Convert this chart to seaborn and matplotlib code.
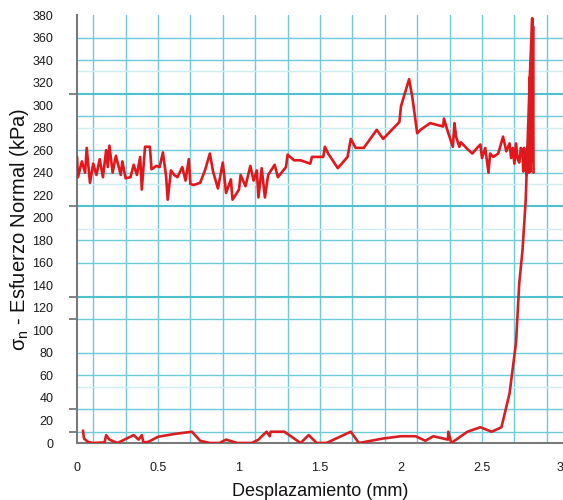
import matplotlib
matplotlib.use("Agg")
import matplotlib.pyplot as plt
import seaborn as sns

# Upper branch: normal stress during shearing (displacement mm, stress kPa)
upper_x = [0.00, 0.006, 0.03, 0.05, 0.06, 0.08, 0.10, 0.12, 0.14, 0.16, 0.18, 0.19, 0.20,
           0.22, 0.24, 0.27, 0.28, 0.30, 0.33, 0.35, 0.37, 0.39, 0.40, 0.42, 0.45, 0.46,
           0.49, 0.51, 0.53, 0.55, 0.56, 0.58, 0.60, 0.62, 0.65, 0.67, 0.69, 0.70, 0.72,
           0.76, 0.79, 0.82, 0.84, 0.87, 0.90, 0.92, 0.95, 0.96, 1.00, 1.01, 1.04, 1.07,
           1.09, 1.11, 1.12, 1.14, 1.16, 1.18, 1.22, 1.24, 1.29, 1.30, 1.34, 1.38, 1.44,
           1.45, 1.52, 1.53, 1.55, 1.61, 1.67, 1.69, 1.72, 1.77, 1.85, 1.89, 1.99, 2.00,
           2.05, 2.07, 2.10, 2.12, 2.18, 2.26, 2.265, 2.29, 2.32, 2.33, 2.34, 2.36, 2.37,
           2.41, 2.44, 2.47, 2.49, 2.50, 2.52, 2.54, 2.55, 2.57, 2.60, 2.63, 2.65, 2.67,
           2.68, 2.69, 2.70, 2.71, 2.72, 2.73, 2.74, 2.75, 2.755, 2.76, 2.765, 2.77,
           2.775, 2.78, 2.785, 2.79, 2.795, 2.80, 2.805, 2.81, 2.812, 2.815, 2.818]
upper_y = [254, 236, 250, 240, 262, 231, 248, 238, 252, 236, 260, 245, 264,
           240, 255, 238, 250, 235, 236, 247, 238, 254, 225, 263, 263, 243,
           246, 245, 258, 237, 216, 242, 238, 236, 245, 233, 252, 230, 229,
           231, 242, 257, 241, 226, 249, 222, 234, 216, 225, 238, 228, 246,
           233, 242, 218, 244, 218, 238, 247, 236, 245, 256, 251, 251, 248,
           254, 254, 263, 257, 244, 254, 270, 262, 262, 278, 270, 285, 299,
           323, 307, 275, 278, 284, 281, 288, 276, 263, 284, 272, 263, 267,
           261, 257, 262, 265, 253, 262, 240, 257, 254, 257, 272, 259, 266,
           253, 262, 248, 266, 252, 249, 262, 257, 241, 262, 243, 258,
           238, 263, 245, 240, 325, 241, 300, 377, 250, 370, 240]

# Lower branch: initial loading curve rising to the peak
lower_x = [0.037, 0.043, 0.068, 0.10, 0.17, 0.18, 0.20, 0.25, 0.35, 0.38, 0.40, 0.41,
           0.44, 0.50, 0.60, 0.71, 0.76, 0.82, 0.88, 0.92, 0.99, 1.08, 1.12, 1.17,
           1.19, 1.195, 1.28, 1.33, 1.38, 1.43, 1.48, 1.54, 1.69, 1.74, 1.89, 2.00,
           2.09, 2.15, 2.20, 2.29, 2.292, 2.31, 2.41, 2.49, 2.56, 2.62, 2.67, 2.71,
           2.73, 2.75, 2.77, 2.78, 2.795, 2.81]
lower_y = [11, 4, 1, 0, 0.5, 7, 3, 0, 7, 3, 7, 0.5,
           1, 5.5, 8, 10, 2, 0, 0, 3, 0, 0, 3, 10,
           6, 10, 10, 5, 0, 7, 0, 0, 10, 0, 4, 6,
           6, 2, 6, 3, 10, 0, 10, 14, 10, 14, 44, 89,
           142, 171, 216, 260, 325, 377]

x_ticks = [0, 0.5, 1, 1.5, 2, 2.5, 3]
x_tick_labels = ["0", "0.5", "1", "1.5", "2", "2.5", "3"]
y_ticks = list(range(0, 381, 20))

sns.set_theme(style="white")
plt.rcParams["font.family"] = ["Liberation Sans", "DejaVu Sans"]
plt.rcParams["mathtext.default"] = "regular"

fig = plt.figure(figsize=(5.63, 5.0), dpi=100)
ax = fig.add_axes([77 / 563, 57 / 500, 486 / 563, 428 / 500])

# Engineering-paper style grid
grid_c = "#6ccbd8"
for gx in [0.1 + 0.2 * k for k in range(15)]:
    ax.axvline(gx, color=grid_c, lw=1.0, zorder=0)
h_main = [360, 340, 290, 260, 240, 180, 160, 80, 60]
h_bold = [310, 210, 130]
h_thin = [110, 30, 10]
h_faint = [330, 280, 230, 190, 50]
for gy in h_main + h_thin:
    ax.axhline(gy, color=grid_c, lw=1.0, zorder=0)
for gy in h_bold:
    ax.axhline(gy, color="#4fc0cd", lw=1.5, zorder=0)
for gy in h_faint:
    ax.axhline(gy, color="#cdeef2", lw=1.0, zorder=0)

red = "#e3161b"
sns.lineplot(x=upper_x, y=upper_y, sort=False, estimator=None, color=red,
             lw=1.9, ax=ax, zorder=3)
sns.lineplot(x=lower_x, y=lower_y, sort=False, estimator=None, color="#d81e22",
             lw=1.9, ax=ax, zorder=3)

ax.set_xlim(0, 3)
ax.set_ylim(0, 380)

ax.set_xticks(x_ticks, x_tick_labels)
ax.set_yticks(y_ticks, [str(v) for v in y_ticks])
ax.tick_params(axis="both", which="major", length=0, labelsize=9,
               colors="#1a1a1a")
ax.tick_params(axis="y", which="major", pad=17)
ax.tick_params(axis="x", which="major", pad=14)
ax.get_xticklabels()[-1].set_ha("right")

ax.set_xticks([0.1 + 0.2 * k for k in range(15)], minor=True)
ax.set_yticks(h_main, minor=True)
ax.tick_params(axis="both", which="minor", length=8, width=1.1,
               color="#606060", direction="out")
ax.tick_params(axis="x", which="minor", length=5)

sec = ax.secondary_yaxis("left")
sec.set_yticks(h_bold + h_thin, labels=[""] * 6)
sec.tick_params(length=6, width=1.1, color="#606060")
sec.spines["left"].set_visible(False)

for side in ["top", "right"]:
    ax.spines[side].set_visible(False)
for side in ["left", "bottom"]:
    ax.spines[side].set_color("#7a7a7a")
    ax.spines[side].set_linewidth(1.5)

ax.set_xlabel("Desplazamiento (mm)", fontsize=13, labelpad=6, color="#111111")
ax.set_ylabel("σ$_{n}$ - Esfuerzo Normal (kPa)", fontsize=14.5, labelpad=1,
              color="#111111")

fig.savefig("out.png", dpi=100)
